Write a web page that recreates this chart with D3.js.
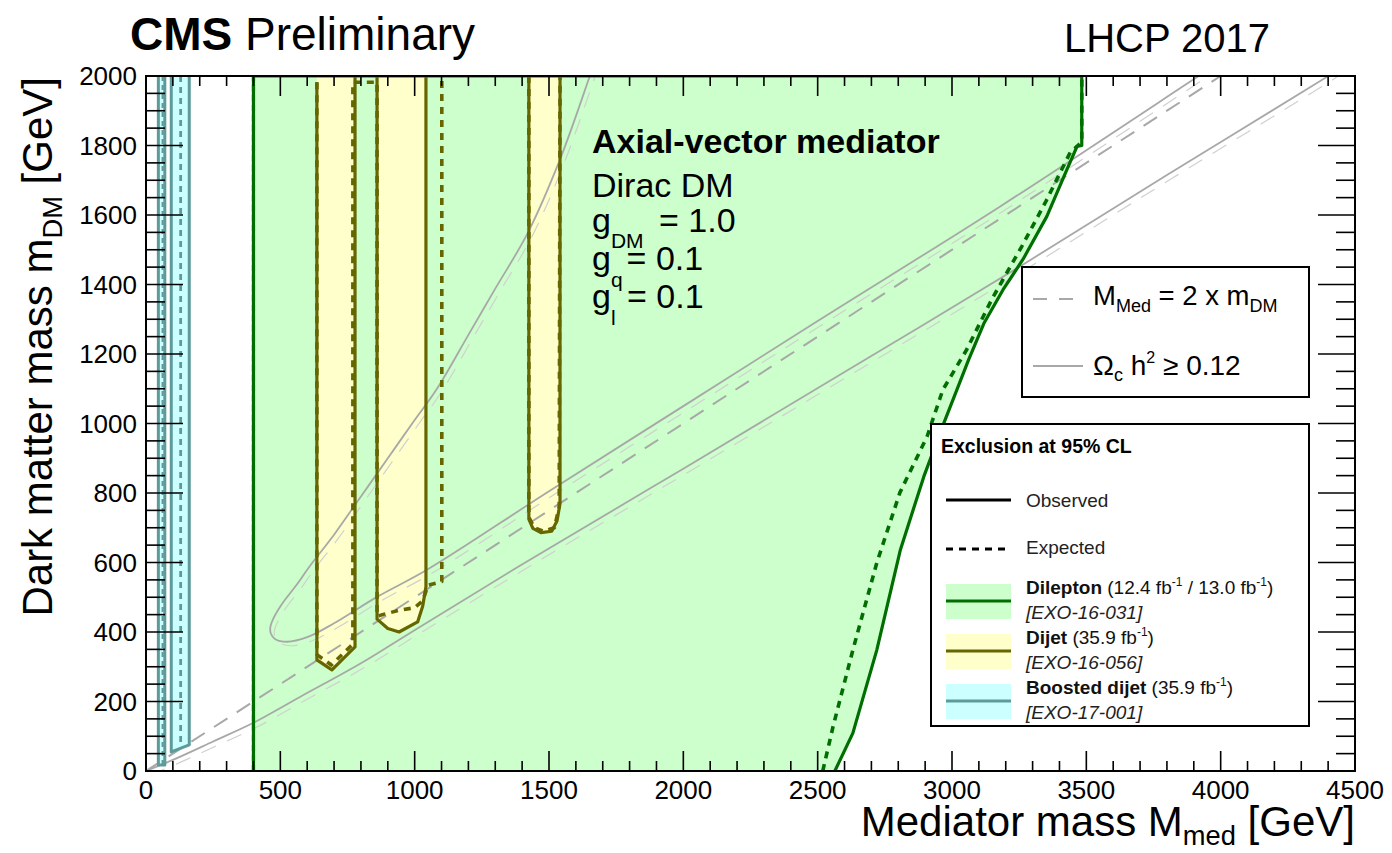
<!DOCTYPE html>
<html>
<head>
<meta charset="utf-8">
<script src="https://cdn.jsdelivr.net/npm/d3@7"></script>
<style>
  html, body { margin: 0; padding: 0; background: #fff; }
  svg { display: block; font-family: "Liberation Sans", Arial, Helvetica, sans-serif; }
</style>
</head>
<body>
<svg id="chart" width="1392" height="853"></svg>
<script>
// ---- axis ticks -------------------------------------------------------
const xTicks = [0, 500, 1000, 1500, 2000, 2500, 3000, 3500, 4000, 4500];
const yTicks = [0, 200, 400, 600, 800, 1000, 1200, 1400, 1600, 1800, 2000];

// ---- dilepton (EXO-16-031), [M_med, m_DM] in GeV ----------------------
const dileptonObs = [[400, 0], [400, 2000], [3483, 2000], [3483, 1800], [3465, 1797],
  [3428, 1731], [3353, 1596], [3264, 1472], [3190, 1385], [3120, 1290], [3062, 1184],
  [2970, 1002], [2895, 847], [2808, 637], [2720, 348], [2631, 109], [2564, 0]];
const dileptonExpLeft = [[400, 0], [400, 2000]];
const dileptonExp = [[2519, 0], [2557, 127], [2631, 348], [2720, 599], [2806, 801],
  [2907, 962], [2966, 1097], [3055, 1213], [3150, 1360], [3260, 1510], [3350, 1640],
  [3440, 1780], [3483, 1810], [3483, 2000]];

// ---- dijet (EXO-16-056) ----------------------------------------------
const dijetObs1 = [[636, 1982], [636, 320], [692, 291], [778, 357], [778, 2000]];
const dijetObs2 = [[860, 2000], [860, 437], [900, 410], [942, 400], [1011, 429],
  [1030, 475], [1042, 530], [1042, 2000]];
const dijetObs3 = [[1425, 2000], [1425, 725], [1440, 698], [1470, 686], [1510, 690],
  [1530, 720], [1541, 770], [1541, 2000]];
const dijetExp1 = [[636, 1982], [636, 335], [690, 305], [770, 365], [770, 1982],
  [860, 1982], [860, 445], [880, 450], [940, 462], [1000, 470], [1030, 490],
  [1050, 535], [1101, 545], [1101, 2000]];
const dijetExp3 = [[1425, 2000], [1425, 730], [1445, 700], [1480, 690], [1520, 700],
  [1538, 760], [1541, 2000]];

// ---- boosted dijet (EXO-17-001) --------------------------------------
const boostedObsA = [[46, 2000], [46, 17], [70, 17], [70, 2000]];
const boostedObsB = [[94, 2000], [94, 55], [161, 75], [161, 2000]];
const boostedExpA = [[62, 2000], [62, 20]];
const boostedExpB = [[129, 2000], [129, 70]];

// ---- relic density (Omega_c h^2 >= 0.12) and M_med = 2 m_DM ---------
const relicLower = [[0, 0], [100, 32], [250, 85], [398, 138], [573, 213], [800, 310],
  [1001, 406], [1429, 608], [2000, 870], [2600, 1148], [3253, 1452], [3800, 1715],
  [4399, 1999], [4420, 2010]];
const relicLoop = [[1670, 2040], [1652, 2000], [1541, 1760], [1422, 1550], [1300, 1388],
  [1200, 1255], [1083, 1100], [1000, 1010], [900, 900], [800, 790], [700, 680],
  [610, 590], [560, 535], [510, 485], [478, 445], [463, 415], [465, 395], [480, 380],
  [525, 372], [600, 385], [700, 425], [860, 501], [1046, 579], [1500, 805],
  [2000, 1050], [2500, 1295], [3178, 1624], [3918, 2000], [3950, 2016]];
const diagonal = [[0, 0], [4000, 2000]];

// ---- styling --------------------------------------------------------
const C = {
  dlFill: "#ccffcc", dlLine: "#006e00",
  djFill: "#ffffcc", djLine: "#666600",
  bdFill: "#ccffff", bdLine: "#5f9a9a",
  relic: "#a8a8a8", hatch: "#d0d0d0"
};

const svg = d3.select("#chart");
const x = d3.scaleLinear().domain([0, 4500]).range([146, 1355]);
const y = d3.scaleLinear().domain([0, 2000]).range([771, 76]);

svg.append("defs").append("clipPath").attr("id", "plotclip")
  .append("rect").attr("x", x(0)).attr("y", y(2000))
  .attr("width", x(4500) - x(0)).attr("height", y(0) - y(2000));

const plot = svg.append("g").attr("clip-path", "url(#plotclip)");
const lin = d3.line().x(d => x(d[0])).y(d => y(d[1]));
const smooth = d3.line().x(d => x(d[0])).y(d => y(d[1])).curve(d3.curveCatmullRom.alpha(0.5));

function fillArea(pts, color) {
  plot.append("path").attr("d", lin(pts) + "Z").attr("fill", color).attr("stroke", "none");
}
function stroke(pts, color, w, dash, gen) {
  plot.append("path").attr("d", (gen || lin)(pts)).attr("fill", "none")
    .attr("stroke", color).attr("stroke-width", w)
    .attr("stroke-dasharray", dash || null).attr("stroke-linejoin", "round");
}

// filled exclusion regions
fillArea(dileptonObs, C.dlFill);
fillArea([[636, 2000]].concat(dijetObs1), C.djFill);
fillArea(dijetObs2, C.djFill);
fillArea(dijetObs3, C.djFill);
fillArea(boostedObsA, C.bdFill);
fillArea(boostedObsB, C.bdFill);

// relic-density contours with faint hatching on the excluded side
[relicLower, relicLoop].forEach(pts => {
  plot.append("path").attr("d", smooth(pts)).attr("fill", "none")
    .attr("stroke", C.hatch).attr("stroke-width", 1.2)
    .attr("stroke-dasharray", "16 12").attr("transform", "translate(4,4)");
  stroke(pts, C.relic, 1.8, null, smooth);
});
stroke(diagonal, C.relic, 2, "16 11");

// exclusion contours: observed solid, expected dashed
stroke(dileptonObs, C.dlLine, 3.2);
stroke(dileptonExpLeft, C.dlLine, 3.2, "6 4");
stroke(dileptonExp, C.dlLine, 3.6, "7 6");

stroke(dijetObs1, C.djLine, 3.2);
stroke(dijetObs2, C.djLine, 3.2);
stroke(dijetObs3, C.djLine, 3.2);
stroke(dijetExp1, C.djLine, 3.6, "7 6");
stroke(dijetExp3, C.djLine, 3.6, "7 6");

stroke(boostedObsA, C.bdLine, 3);
stroke(boostedObsB, C.bdLine, 3);
stroke(boostedExpA, C.bdLine, 2.2, "5 4");
stroke(boostedExpB, C.bdLine, 2.8, "6 5");

// ---- frame and inward ticks -------------------------------------------
const axes = svg.append("g").attr("stroke", "#000");
for (let v = 0; v <= 4500; v += 100) {
  const major = v % 500 === 0, len = major ? 20 : 10;
  axes.append("line").attr("x1", x(v)).attr("x2", x(v)).attr("y1", y(0)).attr("y2", y(0) - len).attr("stroke-width", 1.6);
  axes.append("line").attr("x1", x(v)).attr("x2", x(v)).attr("y1", y(2000)).attr("y2", y(2000) + len).attr("stroke-width", 1.6);
}
for (let v = 0; v <= 2000; v += 50) {
  const major = v % 200 === 0, len = major ? 37 : 19;
  axes.append("line").attr("y1", y(v)).attr("y2", y(v)).attr("x1", x(0)).attr("x2", x(0) + len).attr("stroke-width", 1.6);
  axes.append("line").attr("y1", y(v)).attr("y2", y(v)).attr("x1", x(4500)).attr("x2", x(4500) - len).attr("stroke-width", 1.6);
}
svg.append("rect").attr("x", x(0)).attr("y", y(2000)).attr("width", x(4500) - x(0))
  .attr("height", y(0) - y(2000)).attr("fill", "none").attr("stroke", "#000").attr("stroke-width", 2);

// tick labels
svg.append("g").selectAll("text").data(xTicks).join("text")
  .attr("x", d => x(d)).attr("y", 799).attr("text-anchor", "middle")
  .attr("font-size", 26).text(d => d);
svg.append("g").selectAll("text").data(yTicks).join("text")
  .attr("x", 137).attr("y", d => y(d)).attr("dy", "0.36em").attr("text-anchor", "end")
  .attr("font-size", 26).text(d => d);

// ---- rich text helper (sub/superscripts) -------------------------------
function rich(parent, px, py, size, parts, attrs) {
  const t = parent.append("text").attr("x", px).attr("y", py).attr("font-size", size);
  Object.entries(attrs || {}).forEach(([k, v]) => t.attr(k, v));
  let cur = 0;
  parts.forEach(p => {
    const s = p.size ? p.size : (p.sub || p.sup ? size * 0.65 : size);
    const shift = p.sub ? (p.subShift || size * 0.42) : p.sup ? -(p.supShift || size * 0.42) : 0;
    const ts = t.append("tspan").attr("font-size", s).attr("dy", shift - cur).text(p.t);
    if (p.dx) ts.attr("dx", p.dx);
    if (p.bold) ts.attr("font-weight", "bold");
    if (p.italic) ts.attr("font-style", "italic");
    cur = shift;
  });
  return t;
}

// titles
rich(svg, 130, 50, 46, [{ t: "CMS", bold: true }, { t: " Preliminary" }]);
svg.append("text").attr("x", 1270).attr("y", 52).attr("text-anchor", "end")
  .attr("font-size", 40).text("LHCP 2017");

rich(svg, 1355, 836, 42, [{ t: "Mediator mass M" }, { t: "med", sub: true, subShift: 9 }, { t: " [GeV]" }],
  { "text-anchor": "end" });
rich(svg, 0, 0, 42, [{ t: "Dark matter mass m" }, { t: "DM", sub: true, subShift: 10 }, { t: " [GeV]" }],
  { "text-anchor": "end", transform: "translate(52,77) rotate(-90)" });

// model description
rich(svg, 592, 153, 34, [{ t: "Axial-vector mediator", bold: true }]);
rich(svg, 592, 197, 34, [{ t: "Dirac DM" }]);
rich(svg, 592, 232, 34, [{ t: "g" }, { t: "DM", sub: true, size: 21, subShift: 16 }, { t: " = 1.0", dx: 6 }]);
rich(svg, 592, 270, 34, [{ t: "g" }, { t: "q", sub: true, size: 21, subShift: 17 }, { t: "= 0.1", dx: 4 }]);
rich(svg, 592, 308, 34, [{ t: "g" }, { t: "l", sub: true, size: 21, subShift: 17 }, { t: " = 0.1", dx: 2 }]);

// ---- legend: reference lines ------------------------------------------
const leg1 = svg.append("g");
leg1.append("rect").attr("x", 1022).attr("y", 267).attr("width", 287).attr("height", 130)
  .attr("fill", "#fff").attr("stroke", "#000").attr("stroke-width", 2);
leg1.append("line").attr("x1", 1033).attr("x2", 1078).attr("y1", 299).attr("y2", 299)
  .attr("stroke", C.relic).attr("stroke-width", 2).attr("stroke-dasharray", "14 12");
rich(leg1, 1093, 305, 27.5, [{ t: "M" }, { t: "Med", sub: true, size: 18, subShift: 7 }, { t: " = 2 x m" }, { t: "DM", sub: true, size: 18, subShift: 7 }]);
leg1.append("line").attr("x1", 1033).attr("x2", 1083).attr("y1", 366).attr("y2", 366)
  .attr("stroke", C.relic).attr("stroke-width", 2);
rich(leg1, 1093, 375, 28, [{ t: "Ω" }, { t: "c", sub: true, size: 18, subShift: 6 }, { t: " h" }, { t: "2", sup: true, size: 16, supShift: 12 }, { t: " ≥ 0.12" }]);

// ---- legend: exclusion limits -----------------------------------------
const leg2 = svg.append("g");
leg2.append("rect").attr("x", 931).attr("y", 424).attr("width", 378).attr("height", 302)
  .attr("fill", "#fff").attr("stroke", "#000").attr("stroke-width", 2);
rich(leg2, 941, 453, 19.5, [{ t: "Exclusion at 95% CL", bold: true }]);
leg2.append("line").attr("x1", 946).attr("x2", 1011).attr("y1", 500).attr("y2", 500)
  .attr("stroke", "#000").attr("stroke-width", 3);
rich(leg2, 1026, 507, 19, [{ t: "Observed" }], { fill: "#222" });
leg2.append("line").attr("x1", 946).attr("x2", 1011).attr("y1", 549).attr("y2", 549)
  .attr("stroke", "#000").attr("stroke-width", 3).attr("stroke-dasharray", "7 6");
rich(leg2, 1026, 554, 19, [{ t: "Expected" }], { fill: "#222" });

const entries = [
  { fill: C.dlFill, line: C.dlLine, y0: 584, name: "Dilepton",
    lumi: [{ t: " (12.4 fb" }, { t: "-1", sup: true, size: 12, supShift: 8 }, { t: " / 13.0 fb" }, { t: "-1", sup: true, size: 12, supShift: 8 }, { t: ")" }],
    ref: "[EXO-16-031]" },
  { fill: C.djFill, line: C.djLine, y0: 634, name: "Dijet",
    lumi: [{ t: " (35.9 fb" }, { t: "-1", sup: true, size: 12, supShift: 8 }, { t: ")" }], ref: "[EXO-16-056]" },
  { fill: C.bdFill, line: C.bdLine, y0: 684, name: "Boosted dijet",
    lumi: [{ t: "  (35.9 fb" }, { t: "-1", sup: true, size: 12, supShift: 8 }, { t: ")" }], ref: "[EXO-17-001]" }
];
entries.forEach(e => {
  leg2.append("rect").attr("x", 946).attr("y", e.y0).attr("width", 65).attr("height", 35).attr("fill", e.fill);
  leg2.append("line").attr("x1", 946).attr("x2", 1011).attr("y1", e.y0 + 17).attr("y2", e.y0 + 17)
    .attr("stroke", e.line).attr("stroke-width", 3);
  rich(leg2, 1026, e.y0 + 10, 19, [{ t: e.name, bold: true }].concat(e.lumi.map(p => Object.assign({ size: p.size || 19 }, p))), { fill: "#111" });
  rich(leg2, 1026, e.y0 + 35, 19, [{ t: e.ref, italic: true }], { fill: "#222" });
});
</script>
</body>
</html>
